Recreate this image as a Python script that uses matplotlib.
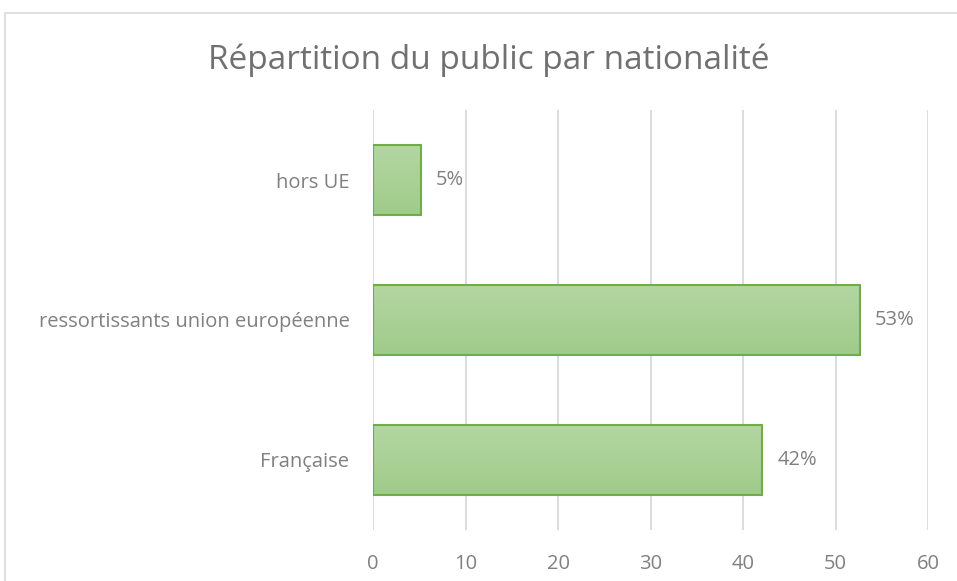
import matplotlib
matplotlib.use("Agg")
import matplotlib.pyplot as plt
import numpy as np
from matplotlib.patches import Rectangle
from matplotlib.colors import LinearSegmentedColormap

categories = ["Française", "ressortissants union européenne", "hors UE"]
values = [42.1, 52.6, 5.2]
labels = ["42%", "53%", "5%"]
xticks = [0, 10, 20, 30, 40, 50, 60]
title = "Répartition du public par nationalité"

plt.rcParams['font.family'] = ['Open Sans', 'DejaVu Sans']
txt = "#808080"

fig = plt.figure(figsize=(9.57, 5.81), dpi=100)
fig.patches.append(Rectangle((5/957, -0.05), 1.2, 1 - 13/581 + 0.05, transform=fig.transFigure,
                             fill=False, edgecolor="#d9d9d9", linewidth=1.2))
ax = fig.add_axes([373/957, 51/581, (928-373)/957, (471-51)/581])

ypos = np.arange(len(categories))
h = 0.5
bars = ax.barh(ypos, values, height=h, color="none", edgecolor="#70ad47", linewidth=1.5, zorder=3)
cmap = LinearSegmentedColormap.from_list("g", ["#b3d6a2", "#a0cb8a"])
grad = np.linspace(0, 1, 100).reshape(-1, 1)
for b, v, y, lab in zip(bars, values, ypos, labels):
    im = ax.imshow(grad, cmap=cmap, aspect="auto", extent=[0, v, y - h/2, y + h/2],
                   origin="upper", zorder=2)
    im.set_clip_path(b)
    ax.text(v + 1.6, y, lab, va="center", ha="left", fontsize=14.5, color=txt)

ax.set_xlim(0, 60)
ax.set_ylim(-0.5, 2.5)
ax.set_yticks(ypos)
ax.set_yticklabels(categories, fontsize=14.5, color=txt)
ax.set_xticks(xticks)
ax.set_xticklabels([str(t) for t in xticks], fontsize=14.5, color=txt)
ax.tick_params(axis="both", length=0)
ax.tick_params(axis="x", pad=17)
ax.tick_params(axis="y", pad=17)
for s in ax.spines.values():
    s.set_visible(False)
ax.grid(axis="x", color="#d9d9d9", linewidth=1.3, zorder=0)
ax.set_axisbelow(True)
fig.text(489/957, 1 - 60/581, title, ha="center", va="center", fontsize=24, color="#707070")

fig.savefig("out.png", dpi=100)
